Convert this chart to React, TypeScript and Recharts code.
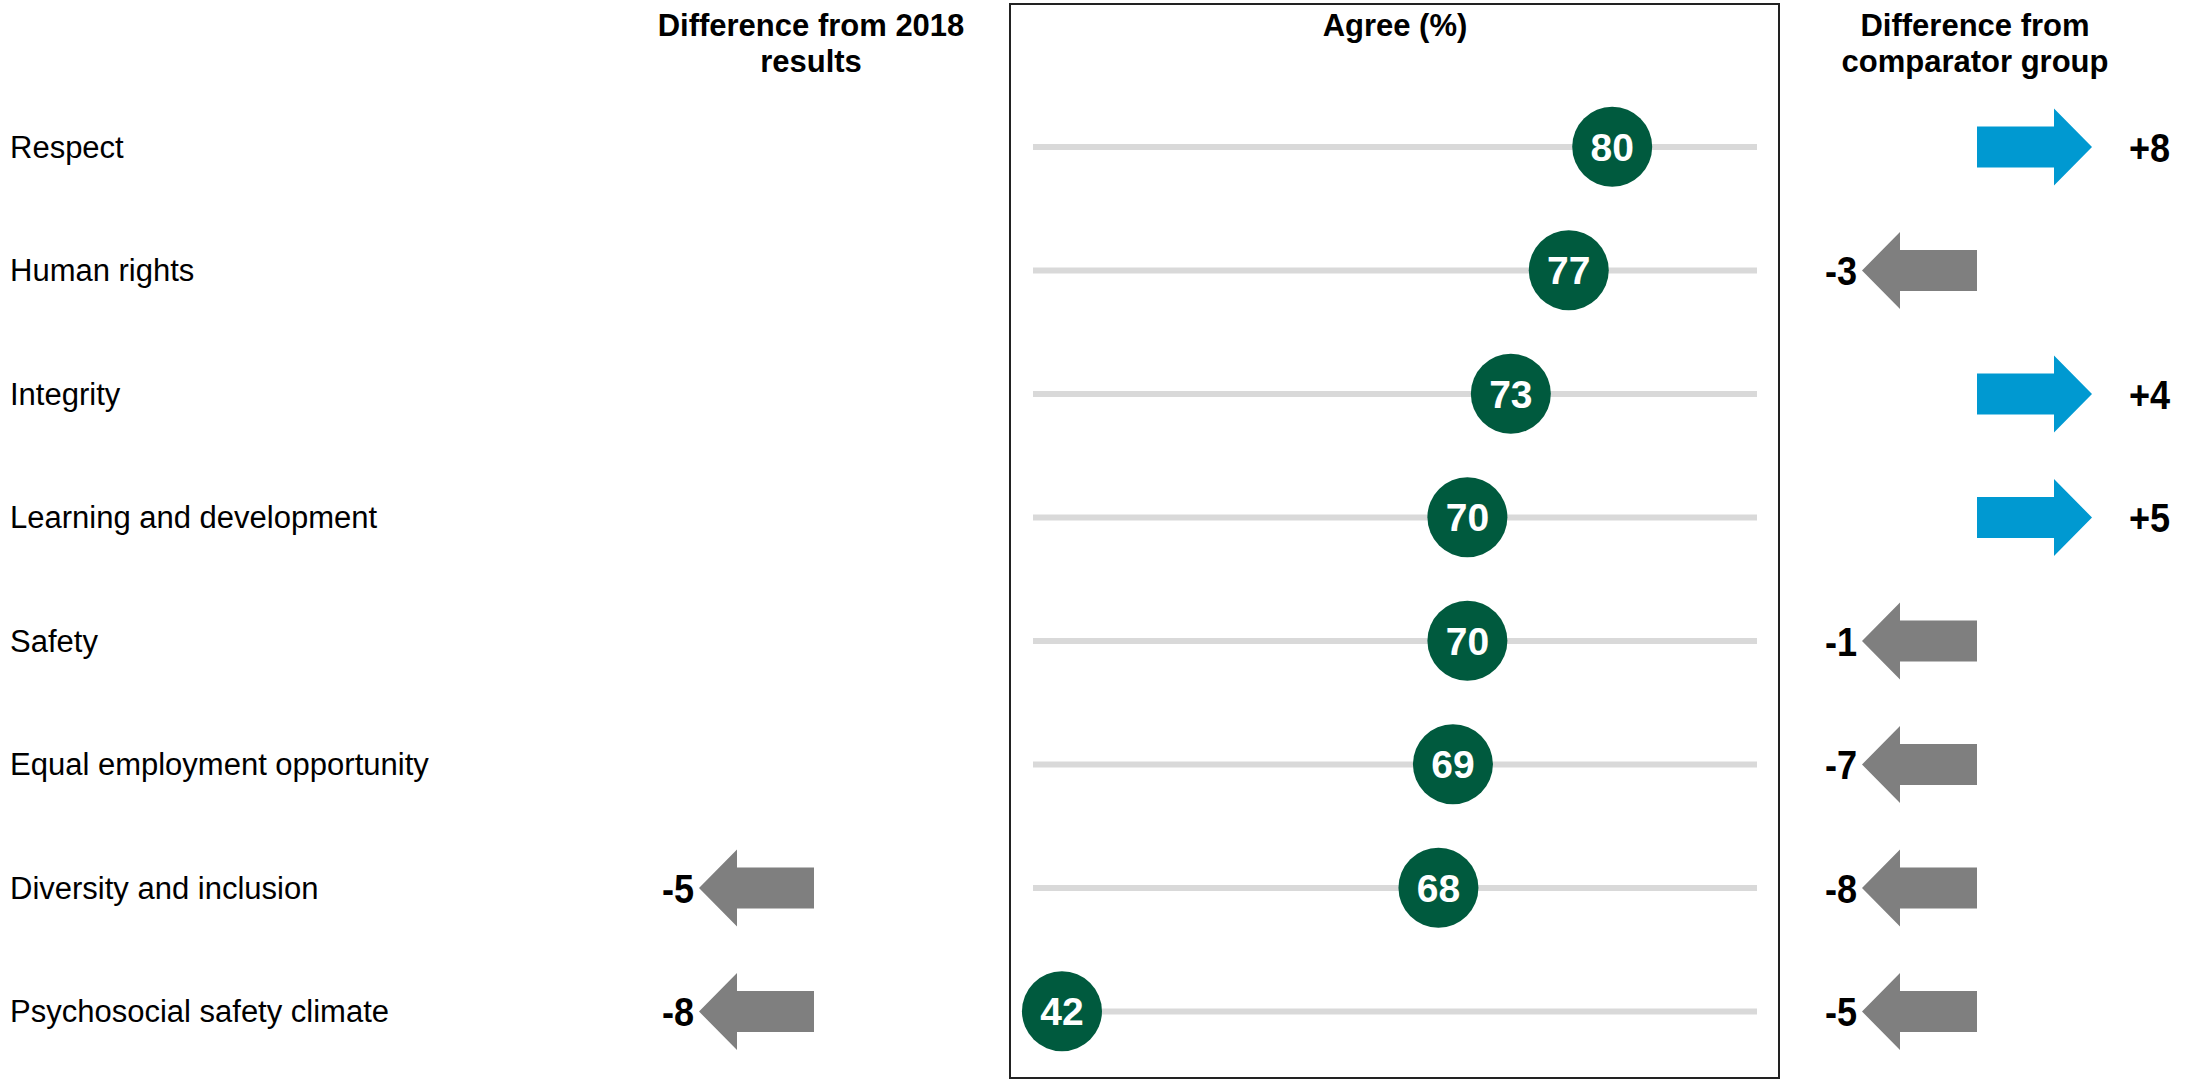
import React from 'react';
import { ComposedChart, Bar, Line, XAxis, YAxis, LabelList } from 'recharts';

const categories = [
  'Respect',
  'Human rights',
  'Integrity',
  'Learning and development',
  'Safety',
  'Equal employment opportunity',
  'Diversity and inclusion',
  'Psychosocial safety climate',
];
const agreeValues = [80, 77, 73, 70, 70, 69, 68, 42];
const diffFrom2018: (number | null)[] = [null, null, null, null, null, null, -5, -8];
const diffFromComparator: (number | null)[] = [8, -3, 4, 5, -1, -7, -8, -5];
const axisDomain: [number, number] = [40, 90];

const data = categories.map((name, i) => ({
  name,
  agree: agreeValues[i],
  track: axisDomain[1],
  prev: diffFrom2018[i],
  cmp: diffFromComparator[i],
}));

const FONT = "'Liberation Sans', Arial, Helvetica, sans-serif";
const GREEN = '#005A3E';
const BLUE = '#0099D1';
const GREY = '#7F7F7F';

const SHAFT_LEN = 77;
const HEAD_LEN = 38;
const SHAFT_H = 41;
const HEAD_H = 77;

function arrowPath(anchorX: number, cy: number, dir: number) {
  const s = anchorX + dir * SHAFT_LEN;
  const t = s + dir * HEAD_LEN;
  return [
    `M${anchorX},${cy - SHAFT_H / 2}`,
    `L${s},${cy - SHAFT_H / 2}`,
    `L${s},${cy - HEAD_H / 2}`,
    `L${t},${cy}`,
    `L${s},${cy + HEAD_H / 2}`,
    `L${s},${cy + SHAFT_H / 2}`,
    `L${anchorX},${cy + SHAFT_H / 2}`,
    'Z',
  ].join(' ');
}

function makeArrowContent(anchorX: number) {
  return (props: any) => {
    const v = props.value;
    if (v === null || v === undefined || v === '') return null;
    const vb = props.viewBox || props;
    const cy = (vb.y ?? props.y) + (vb.height ?? props.height ?? 0) / 2;
    const num = Number(v);
    const dir = num > 0 ? 1 : -1;
    const tip = anchorX + dir * (SHAFT_LEN + HEAD_LEN);
    const label = num > 0 ? `+${num}` : `${num}`;
    const tx = dir > 0 ? tip + 37 : tip - 5;
    return (
      <g key={`arrow-${anchorX}-${props.index}`}>
        <path d={arrowPath(anchorX, cy, dir)} fill={num > 0 ? BLUE : GREY} />
        <g transform={`translate(${tx},${cy}) scale(0.88,1)`}>
          <text
            x={0}
            y={0}
            dy="0.355em"
            textAnchor={dir > 0 ? 'start' : 'end'}
            fontFamily={FONT}
            fontWeight="bold"
            fontSize={41}
            fill="#000"
          >
            {label}
          </text>
        </g>
      </g>
    );
  };
}

const LabelTick = (props: any) => {
  const { y, payload } = props;
  return (
    <text x={10} y={y} dy="0.355em" textAnchor="start" fontFamily={FONT} fontSize={31} fill="#000">
      {payload.value}
    </text>
  );
};

const renderDot = (p: any) => {
  if (p.cx == null || p.cy == null) return <g key={`d-${p.index}`} />;
  return (
    <g key={`d-${p.index}`}>
      <circle cx={p.cx} cy={p.cy} r={40} fill={GREEN} />
      <text
        x={p.cx}
        y={p.cy}
        dy="0.355em"
        textAnchor="middle"
        fontFamily={FONT}
        fontWeight="bold"
        fontSize={39}
        fill="#fff"
      >
        {p.payload.agree}
      </text>
    </g>
  );
};

const headerStyle: React.CSSProperties = {
  position: 'absolute',
  top: 8,
  width: 420,
  textAlign: 'center',
  fontFamily: FONT,
  fontWeight: 'bold',
  fontSize: 31,
  lineHeight: '36px',
  color: '#000',
};

export default function App() {
  return (
    <div style={{ position: 'absolute', left: 0, top: 0, width: 2195, height: 1081, background: '#fff' }}>
      <ComposedChart
        layout="vertical"
        width={2195}
        height={1081}
        data={data}
        margin={{ top: 85, right: 438, bottom: 8, left: 0 }}
      >
        <XAxis type="number" domain={axisDomain} hide />
        <YAxis
          type="category"
          dataKey="name"
          width={1033}
          axisLine={false}
          tickLine={false}
          interval={0}
          tick={<LabelTick />}
        />
        <Bar dataKey="track" fill="#D9D9D9" barSize={6} isAnimationActive={false}>
          <LabelList dataKey="prev" content={makeArrowContent(814)} />
          <LabelList dataKey="cmp" content={makeArrowContent(1977)} />
        </Bar>
        <Line
          dataKey="agree"
          stroke="none"
          dot={renderDot}
          activeDot={false}
          isAnimationActive={false}
        />
      </ComposedChart>
      <div
        style={{
          position: 'absolute',
          left: 1009,
          top: 3,
          width: 771,
          height: 1076,
          border: '2px solid #222',
          boxSizing: 'border-box',
          pointerEvents: 'none',
        }}
      />
      <div style={{ ...headerStyle, left: 811 - 210 }}>
        Difference from 2018
        <br />
        results
      </div>
      <div style={{ ...headerStyle, left: 1395 - 210 }}>Agree (%)</div>
      <div style={{ ...headerStyle, left: 1975 - 210 }}>
        Difference from
        <br />
        comparator group
      </div>
    </div>
  );
}
